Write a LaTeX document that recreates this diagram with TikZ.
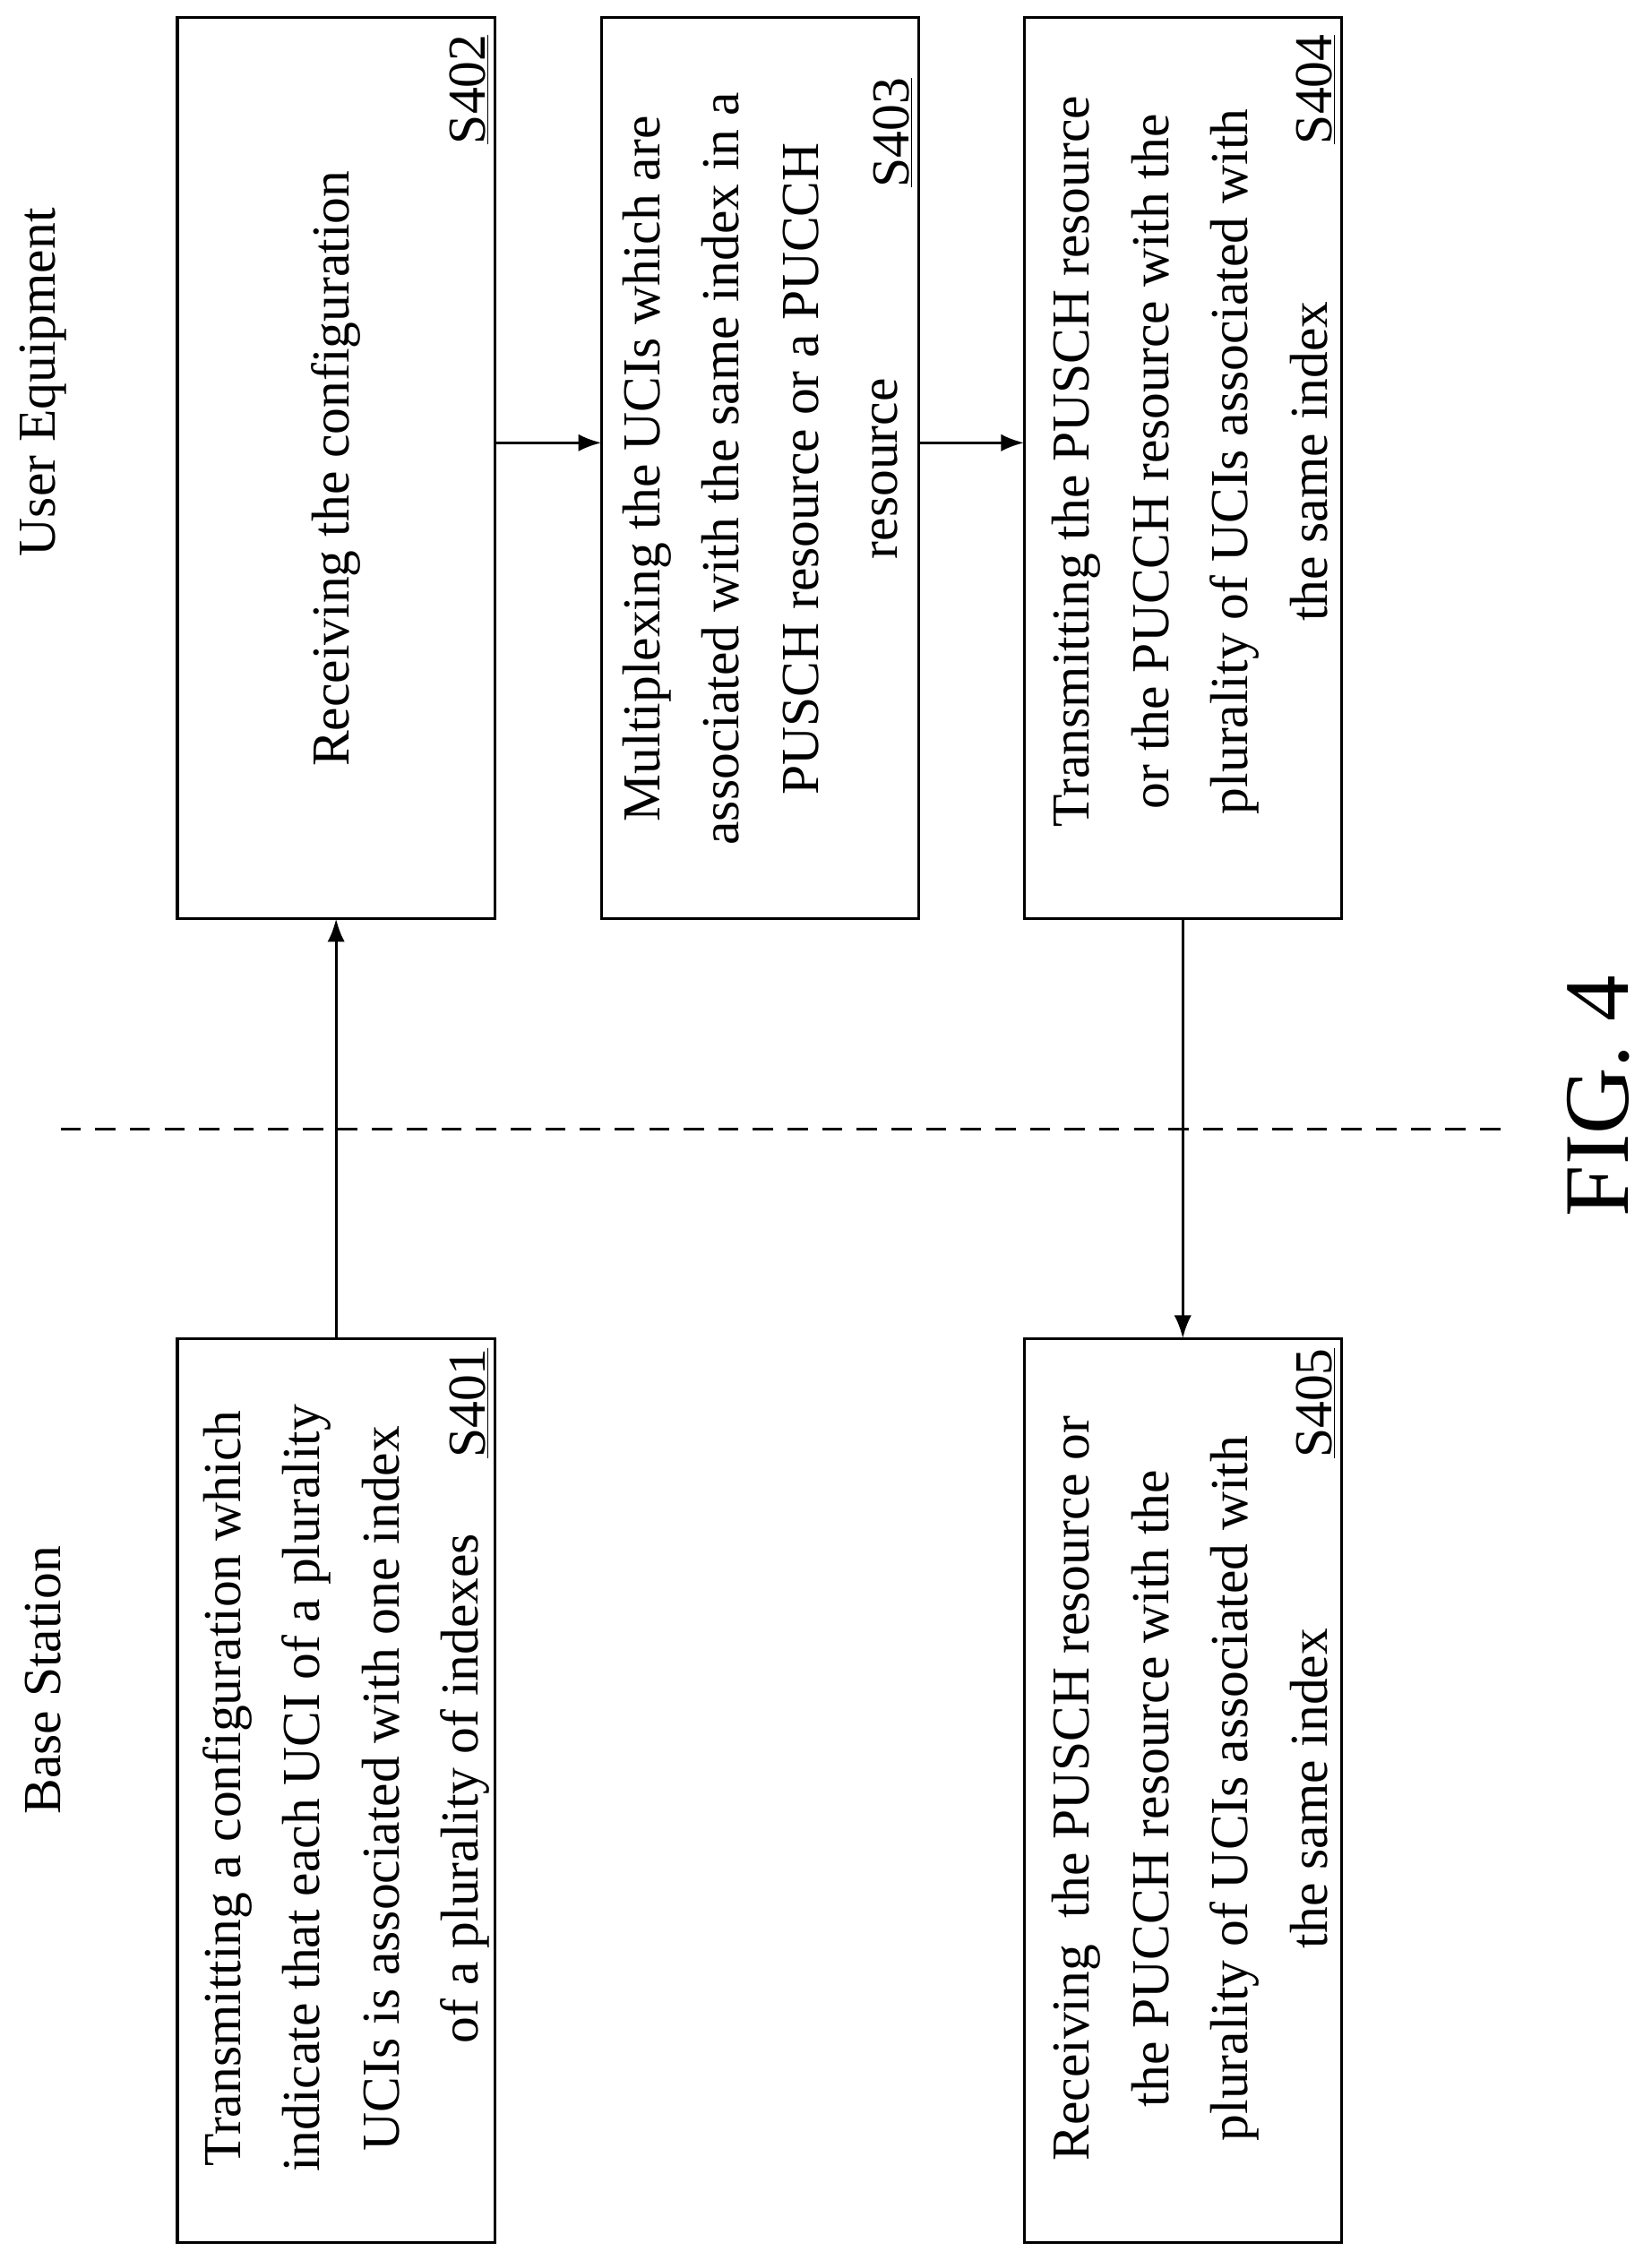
\documentclass[tikz,border=0pt]{standalone}
\usepackage{fontspec}
\setmainfont{Liberation Serif}
\usetikzlibrary{arrows.meta}
\begin{document}
\begin{tikzpicture}[x=1pt,y=1pt,
  box/.style={draw,line width=2pt},
  txt/.style={rotate=90,align=center,font=\fontsize{37}{55}\selectfont},
  lab/.style={rotate=90,font=\fontsize{37}{55}\selectfont},
  arr/.style={line width=2pt,-{Latex[length=16pt,width=12pt]}}]
\useasboundingbox (0,0) rectangle (1145,-1567);
\draw[box] (123,-928) rectangle (343,-1555);
\draw[box] (710,-928) rectangle (930,-1555);
\draw[box] (123,-12) rectangle (343,-637);
\draw[box] (417,-12) rectangle (637,-637);
\draw[box] (710,-12) rectangle (930,-637);
\coordinate (s401t) at (233,-928); \coordinate (s402b) at (233,-637);
\coordinate (s402r) at (343,-307); \coordinate (s403l) at (417,-307);
\coordinate (s403r) at (637,-307); \coordinate (s404l) at (710,-307);
\coordinate (s404b) at (820,-637); \coordinate (s405t) at (820,-928);
\draw[arr] (s401t) -- (s402b);
\draw[arr] (s402r) -- (s403l);
\draw[arr] (s403r) -- (s404l);
\draw[arr] (s404b) -- (s405t);
\draw[line width=2pt,dash pattern=on 14pt off 10pt] (42,-783) -- (1043,-783);
\node[lab] (bs) at (30,-1165) {Base Station};
\node[lab] (ue) at (30,-265) {User Equipment};
\node[rotate=90,font=\fontsize{64}{70}\selectfont] (fig) at (1108,-760) {FIG. 4};
\node[txt] (t1) at (240,-1240) {Transmitting a configuration which\\indicate that each UCI of a plurality\\UCIs is associated with one index\\of a plurality of indexes};
\node[txt] (t2) at (233,-325) {Receiving the configuration};
\node[txt] (t3) at (527,-325) {Multiplexing the UCIs which are\\associated with the same index in a\\PUSCH resource or a PUCCH\\resource};
\node[txt] (t4) at (825,-320) {Transmitting the PUSCH resource\\or the PUCCH resource with the\\plurality of UCIs associated with\\the same index};
\node[txt] (t5) at (825,-1240) {Receiving\ \ the PUSCH resource or\\the PUCCH resource with the\\plurality of UCIs associated with\\the same index};
\node[lab] (l1) at (325,-973) {\underline{S401}};
\node[lab] (l2) at (325,-62) {\underline{S402}};
\node[lab] (l3) at (619,-92) {\underline{S403}};
\node[lab] (l4) at (912,-62) {\underline{S404}};
\node[lab] (l5) at (912,-973) {\underline{S405}};
\end{tikzpicture}
\end{document}
